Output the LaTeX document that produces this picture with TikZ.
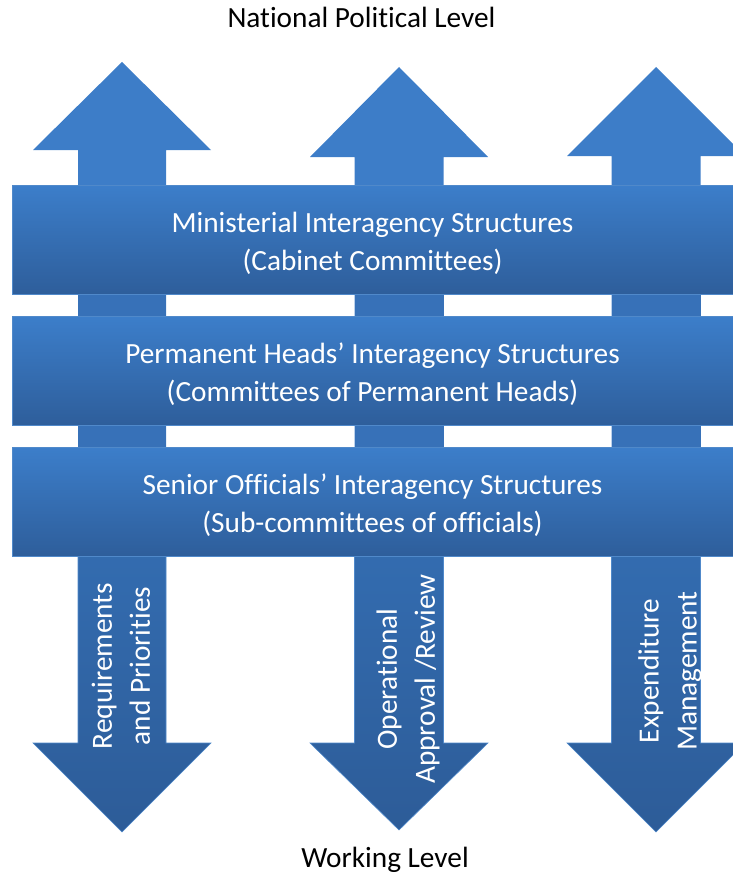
\documentclass[tikz,border=0pt]{standalone}
\usepackage{fontspec}
\setmainfont{Carlito}[Ligatures=NoCommon]
\definecolor{upc}{RGB}{61,125,200}
\definecolor{segc}{RGB}{55,113,184}
\definecolor{bandtop}{RGB}{60,126,202}
\definecolor{bandbot}{RGB}{46,94,155}
\definecolor{dntop}{RGB}{51,108,176}
\definecolor{dnbot}{RGB}{45,92,152}
\definecolor{edgec}{RGB}{80,137,202}
\tikzset{
  bigfont/.style={font=\fontsize{29.3}{38}\selectfont},
  lbl/.style={bigfont, inner sep=0pt, text=black},
  bandbox/.style={top color=bandtop, bottom color=bandbot, draw=edgec, line width=0.8pt,
    minimum width=721pt, minimum height=109pt, inner sep=0pt},
  bandtext/.style={bigfont, inner sep=0pt, align=center, text=white},
  vlabel/.style={bigfont, rotate=90, align=center, text=white, inner sep=0pt},
  uparrow/.style={fill=upc},
  segbox/.style={fill=segc},
  dnarrow/.style={top color=dntop, bottom color=dnbot, draw=edgec, line width=0.6pt}
}
\begin{document}
\begin{tikzpicture}[x=1pt,y=-1pt]
\clip (0,0) rectangle (733,875);
% up arrows
\path[uparrow] (78,190) -- (78,150) -- (33,150) -- (122,62) -- (211,150) -- (166,150) -- (166,447) -- (78,447) -- cycle;
\path[uparrow] (354.5,190) -- (354.5,157) -- (310,157) -- (399,67) -- (488,157) -- (443.5,157) -- (443.5,447) -- (354.5,447) -- cycle;
\path[uparrow] (611.5,190) -- (611.5,156) -- (567,156) -- (656,67) -- (745,156) -- (700.5,156) -- (700.5,447) -- (611.5,447) -- cycle;
% segments between bands
\path[segbox] (78,290) rectangle (166,320);
\path[segbox] (78,421) rectangle (166,451);
\path[segbox] (354.5,290) rectangle (443.5,320);
\path[segbox] (354.5,421) rectangle (443.5,451);
\path[segbox] (611.5,290) rectangle (700.5,320);
\path[segbox] (611.5,421) rectangle (700.5,451);
% down arrows
\path[dnarrow] (78,550) -- (78,743) -- (33,743) -- (122,832) -- (211,743) -- (166,743) -- (166,550) -- cycle;
\path[dnarrow] (354.5,550) -- (354.5,743) -- (310,743) -- (399,830) -- (488,743) -- (443.5,743) -- (443.5,550) -- cycle;
\path[dnarrow] (611.5,550) -- (611.5,743) -- (567,743) -- (656,832) -- (745,743) -- (700.5,743) -- (700.5,550) -- cycle;
% bands
\node[bandbox] (b1) at (372.5,239.5) {};
\node[bandbox] (b2) at (372.5,370.5) {};
\node[bandbox] (b3) at (372.5,501.5) {};
\node[bandtext] (t1) at ([yshift=-4pt]b1.center) {Ministerial Interagency Structures\\(Cabinet Committees)};
\node[bandtext] (t2) at ([yshift=-4pt]b2.center) {Permanent Heads’ Interagency Structures\\(Committees of Permanent Heads)};
\node[bandtext] (t3) at ([yshift=-4pt]b3.center) {Senior Officials’ Interagency Structures\\(Sub-committees of officials)};
% vertical labels
\node[vlabel] (v1) at (121,666) {Requirements\\and Priorities};
\node[vlabel] (v2) at (408,679) {Operational\\Approval /Review};
\node[vlabel] (v3) at (670,671) {Expenditure\\Management};
% level labels
\node[lbl, anchor=base] (top) at (361.5,28) {National Political Level};
\node[lbl, anchor=base] (bot) at (385,867) {Working Level};
\end{tikzpicture}
\end{document}
